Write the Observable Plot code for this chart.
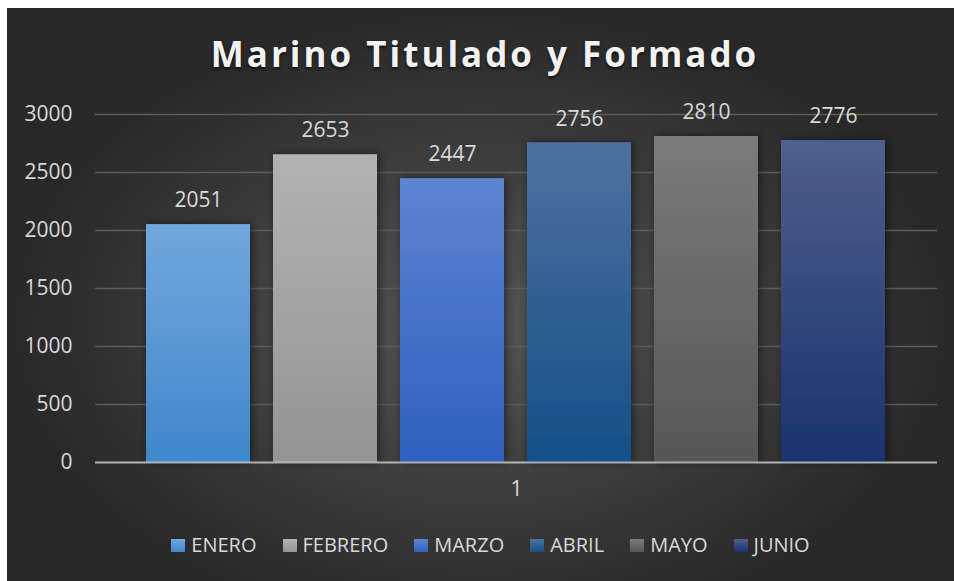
<!DOCTYPE html>
<html>
<head>
<meta charset="utf-8">
<script src="https://cdn.jsdelivr.net/npm/d3@7"></script>
<script src="https://cdn.jsdelivr.net/npm/@observablehq/plot@0.6"></script>
<style>
  html, body { margin: 0; padding: 0; background: #ffffff; }
  #chart {
    position: absolute; left: 7px; top: 8px; width: 947px; height: 573px;
    background: radial-gradient(ellipse farthest-side at 50% 55%, #545454 0%, #3c3c3c 55%, #282828 100%);
    font-family: "Open Sans", sans-serif; overflow: hidden;
  }
  #title {
    position: absolute; left: 0; right: 0; top: 21px; padding-left: 9px;
    line-height: 50px; text-align: center; font-size: 35px; font-weight: 700;
    letter-spacing: 3px; color: #f2f2f2; text-shadow: 0 2px 3px rgba(0,0,0,0.65);
  }
  #plot { position: absolute; left: 0; top: 82px; }
  #legend {
    position: absolute; left: 0; right: 0; top: 525px; padding-left: 20px;
    display: flex; justify-content: center; align-items: center;
    font-size: 20px; line-height: 24px; color: #d9d9d9;
  }
  .item { display: flex; align-items: center; margin: 0 13px; }
  .swatch { width: 14px; height: 13px; margin-right: 6px; }
</style>
</head>
<body>
<div id="chart">
  <div id="title"></div>
  <div id="plot"></div>
  <div id="legend"></div>
</div>
<script>
const chartTitle = "Marino Titulado y Formado";
const months = ["ENERO", "FEBRERO", "MARZO", "ABRIL", "MAYO", "JUNIO"];
const values = [2051, 2653, 2447, 2756, 2810, 2776];
const groupLabels = ["1"];
const yTicks = [0, 500, 1000, 1500, 2000, 2500, 3000];

const topColors = ["#72a7dd", "#b2b2b2", "#5e84d2", "#4e72a0", "#7b7b7b", "#505f8d"];
const bottomColors = ["#3f87cb", "#949494", "#2f60bf", "#154f89", "#575757", "#19336d"];

const data = months.map((m, i) => ({month: m, value: values[i]}));

document.getElementById("title").textContent = chartTitle;

const defs = () => {
  const d = d3.create("svg:defs");
  months.forEach((m, i) => {
    const g = d.append("linearGradient").attr("id", "grad" + i)
      .attr("x1", 0).attr("y1", 0).attr("x2", 0).attr("y2", 1);
    g.append("stop").attr("offset", "0%").attr("stop-color", topColors[i]);
    g.append("stop").attr("offset", "100%").attr("stop-color", bottomColors[i]);
  });
  const f = d.append("filter").attr("id", "shadow")
    .attr("x", "-30%").attr("y", "-10%").attr("width", "160%").attr("height", "120%");
  f.append("feDropShadow").attr("dx", 2).attr("dy", 0).attr("stdDeviation", 4)
    .attr("flood-color", "#000").attr("flood-opacity", 0.5);
  return d.node();
};

const plot = Plot.plot({
  width: 947,
  height: 425,
  marginLeft: 88,
  marginRight: 17,
  marginTop: 24,
  marginBottom: 53,
  style: {background: "transparent", color: "#d9d9d9", fontFamily: "Open Sans, sans-serif", fontSize: "21px", overflow: "visible"},
  x: {domain: months, paddingInner: 0.18, paddingOuter: 0.4, axis: null},
  y: {domain: [0, 3000], ticks: yTicks, tickFormat: "d", tickSize: 0, tickPadding: 23, label: null},
  color: {domain: months, range: months.map((m, i) => `url(#grad${i})`)},
  marks: [
    defs,
    Plot.gridY(yTicks, {stroke: "#5c5c5c", strokeOpacity: 1, strokeWidth: 1.3}),
    Plot.barY(data, {x: "month", y: "value", fill: "month"}),
    Plot.ruleY([0], {stroke: "#ffffff", strokeOpacity: 0.55, strokeWidth: 2}),
    Plot.text(data, {x: "month", y: "value", text: d => String(d.value), dy: -24, fill: "#d9d9d9", fontSize: 21}),
    Plot.text(groupLabels, {text: d => d, frameAnchor: "bottom", dy: 33, fill: "#d9d9d9", fontSize: 21})
  ]
});
d3.select(plot).selectAll("g[aria-label='bar'] rect").attr("filter", "url(#shadow)");
document.getElementById("plot").appendChild(plot);

const legend = d3.select("#legend");
months.forEach((m, i) => {
  const it = legend.append("div").attr("class", "item");
  it.append("div").attr("class", "swatch")
    .style("background", `linear-gradient(${topColors[i]}, ${bottomColors[i]})`);
  it.append("span").text(m);
});
</script>
</body>
</html>
